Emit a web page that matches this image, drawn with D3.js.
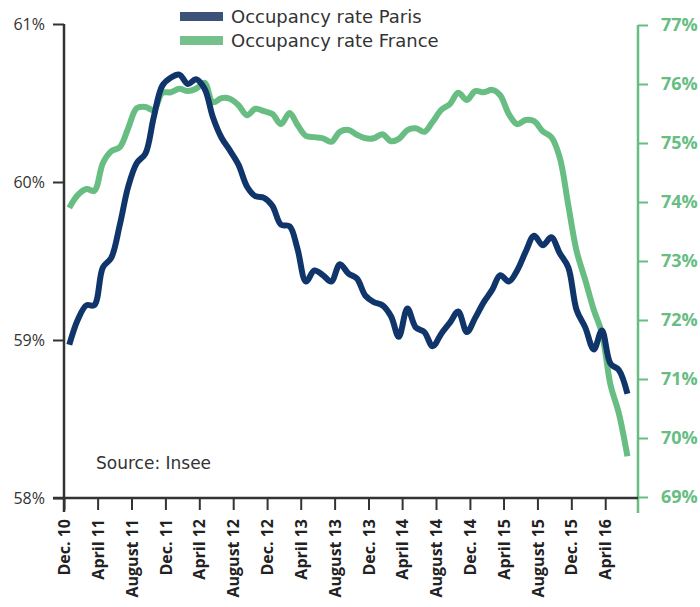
<!DOCTYPE html>
<html>
  <head>
    <meta charset="utf-8">
    <title>Occupancy rate</title>
    <script src="https://cdn.jsdelivr.net/npm/d3@7/dist/d3.min.js"></script>
    <style type="text/css">
      body { margin: 0; background: #fff; }
      text { font-family: "Open Sans", sans-serif; }
      .wide { font-family: "DejaVu Sans", sans-serif; }
    </style>
  </head>
  <body>
    <script>

      // Monthly values, Dec. 2010 -> June 2016
      var paris = [58.97, 59.13, 59.22, 59.22, 59.46, 59.52, 59.73, 59.97, 60.12, 60.18,
                   60.41, 60.61, 60.66, 60.68, 60.62, 60.65, 60.59, 60.41, 60.28, 60.20,
                   60.11, 59.97, 59.91, 59.90, 59.85, 59.73, 59.72, 59.58, 59.37, 59.44,
                   59.41, 59.37, 59.48, 59.42, 59.39, 59.28, 59.24, 59.22, 59.15, 59.02,
                   59.20, 59.08, 59.05, 58.96, 59.04, 59.11, 59.18, 59.05, 59.14, 59.24,
                   59.32, 59.41, 59.37, 59.44, 59.56, 59.66, 59.60, 59.65, 59.55, 59.46,
                   59.19, 59.08, 58.94, 59.06, 58.85, 58.81, 58.66];

      var france = [73.90, 74.12, 74.22, 74.19, 74.66, 74.86, 74.93, 75.25, 75.59, 75.61,
                    75.56, 75.85, 75.86, 75.92, 75.88, 75.92, 76.02, 75.69, 75.76, 75.75,
                    75.64, 75.47, 75.58, 75.54, 75.49, 75.32, 75.51, 75.31, 75.12, 75.10,
                    75.08, 75.02, 75.19, 75.22, 75.14, 75.08, 75.08, 75.15, 75.03, 75.07,
                    75.22, 75.25, 75.19, 75.36, 75.56, 75.66, 75.85, 75.73, 75.88, 75.86,
                    75.90, 75.81, 75.49, 75.32, 75.39, 75.37, 75.20, 75.10, 74.76, 73.95,
                    73.17, 72.68, 72.17, 71.78, 70.90, 70.42, 69.69];

      var tickLabels = ["Dec. 10", "April 11", "August 11", "Dec. 11", "April 12", "August 12",
                        "Dec. 12", "April 13", "August 13", "Dec. 13", "April 14", "August 14",
                        "Dec. 14", "April 15", "August 15", "Dec. 15", "April 16"];

      var leftTicks = [58, 59, 60, 61];
      var rightTicks = [69, 70, 71, 72, 73, 74, 75, 76, 77];

      var seriesNames = ["Occupancy rate Paris", "Occupancy rate France"];

      var navy = "#10356a";
      var green = "#68bd83";
      var ink = "#333333";

      var w = 700, h = 607;
      var start = new Date(2010, 11, 1);

      var svg = d3.select("body")
                  .append("svg")
                  .attr("width", w)
                  .attr("height", h);

      // scales
      var x = d3.scaleTime()
                .domain([start, new Date(2016, 6, 28)])
                .range([64, 638]);

      var yLeft = d3.scaleLinear().domain([58, 61]).range([498, 24]);
      var yRight = d3.scaleLinear().domain([69, 77]).range([497, 25]);

      // one point per month, drawn mid-month
      function monthDate(i) {
        return d3.timeDay.offset(d3.timeMonth.offset(start, i), 19);
      }

      var tickDates = tickLabels.map(function(d, i) {
        return d3.timeMonth.offset(start, i * 4);
      });

      // right axis (green)
      var gRight = svg.append("g")
          .attr("transform", "translate(638,0)")
          .call(d3.axisRight(yRight)
                  .tickValues(rightTicks)
                  .tickSize(10)
                  .tickPadding(13)
                  .tickFormat(function(d) { return d + "%"; }));
      gRight.select(".domain").remove();
      gRight.append("line")
          .attr("x1", 0).attr("x2", 0)
          .attr("y1", 25).attr("y2", 513)
          .attr("stroke", green).attr("stroke-width", 2.5);
      gRight.selectAll(".tick line").attr("stroke", green).attr("stroke-width", 2);
      gRight.selectAll(".tick text")
          .attr("fill", green)
          .style("font-size", "18px")
          .style("font-weight", "bold");

      // left axis
      var gLeft = svg.append("g")
          .attr("transform", "translate(64,0)")
          .call(d3.axisLeft(yLeft)
                  .tickValues(leftTicks)
                  .tickSize(11)
                  .tickPadding(8)
                  .tickFormat(function(d) { return d + "%"; }));
      gLeft.select(".domain").attr("stroke", ink).attr("stroke-width", 2.5)
          .attr("d", "M0,24V512");
      gLeft.selectAll(".tick line").attr("stroke", ink).attr("stroke-width", 2);
      gLeft.selectAll(".tick text")
          .attr("fill", ink)
          .style("font-size", "16px");

      // bottom axis
      var gBottom = svg.append("g")
          .attr("transform", "translate(0,498)")
          .call(d3.axisBottom(x)
                  .tickValues(tickDates)
                  .tickSize(12)
                  .tickFormat(function(d, i) { return tickLabels[i]; }));
      gBottom.select(".domain").attr("stroke", ink).attr("stroke-width", 2.5)
          .attr("d", "M53,0H638");
      gBottom.selectAll(".tick line").attr("stroke", ink).attr("stroke-width", 2);
      gBottom.selectAll(".tick text")
          .attr("fill", "#222")
          .style("font-size", "16px")
          .style("font-weight", "bold")
          .attr("transform", "rotate(-90)")
          .attr("text-anchor", "end")
          .attr("x", -21)
          .attr("y", 0)
          .attr("dy", "0.35em");

      // lines
      var lineLeft = d3.line()
          .x(function(d, i) { return x(monthDate(i)); })
          .y(function(d) { return yLeft(d); })
          .curve(d3.curveCatmullRom.alpha(0.5));

      var lineRight = d3.line()
          .x(function(d, i) { return x(monthDate(i)); })
          .y(function(d) { return yRight(d); })
          .curve(d3.curveCatmullRom.alpha(0.5));

      svg.append("path")
          .datum(france)
          .attr("d", lineRight)
          .attr("fill", "none")
          .attr("stroke", green)
          .attr("stroke-width", 6)
          .attr("stroke-linejoin", "round");

      svg.append("path")
          .datum(paris)
          .attr("d", lineLeft)
          .attr("fill", "none")
          .attr("stroke", navy)
          .attr("stroke-width", 6)
          .attr("stroke-linejoin", "round");

      // legend
      var legendColors = ["#3c5279", "#74c18b"];
      var legend = svg.selectAll(".legend")
          .data(seriesNames)
          .enter()
          .append("g")
          .attr("class", "legend")
          .attr("transform", function(d, i) { return "translate(180," + (12 + i * 24) + ")"; });

      legend.append("rect")
          .attr("width", 43)
          .attr("height", 9)
          .attr("fill", function(d, i) { return legendColors[i]; });

      legend.append("text")
          .attr("class", "wide")
          .attr("x", 51)
          .attr("y", 5)
          .attr("dy", "0.35em")
          .attr("fill", ink)
          .style("font-size", "18px")
          .text(function(d) { return d; });

      // source note
      svg.append("text")
          .attr("class", "wide")
          .attr("x", 96)
          .attr("y", 469)
          .attr("fill", ink)
          .style("font-size", "17px")
          .text("Source: Insee");

    </script>
  </body>
</html>
